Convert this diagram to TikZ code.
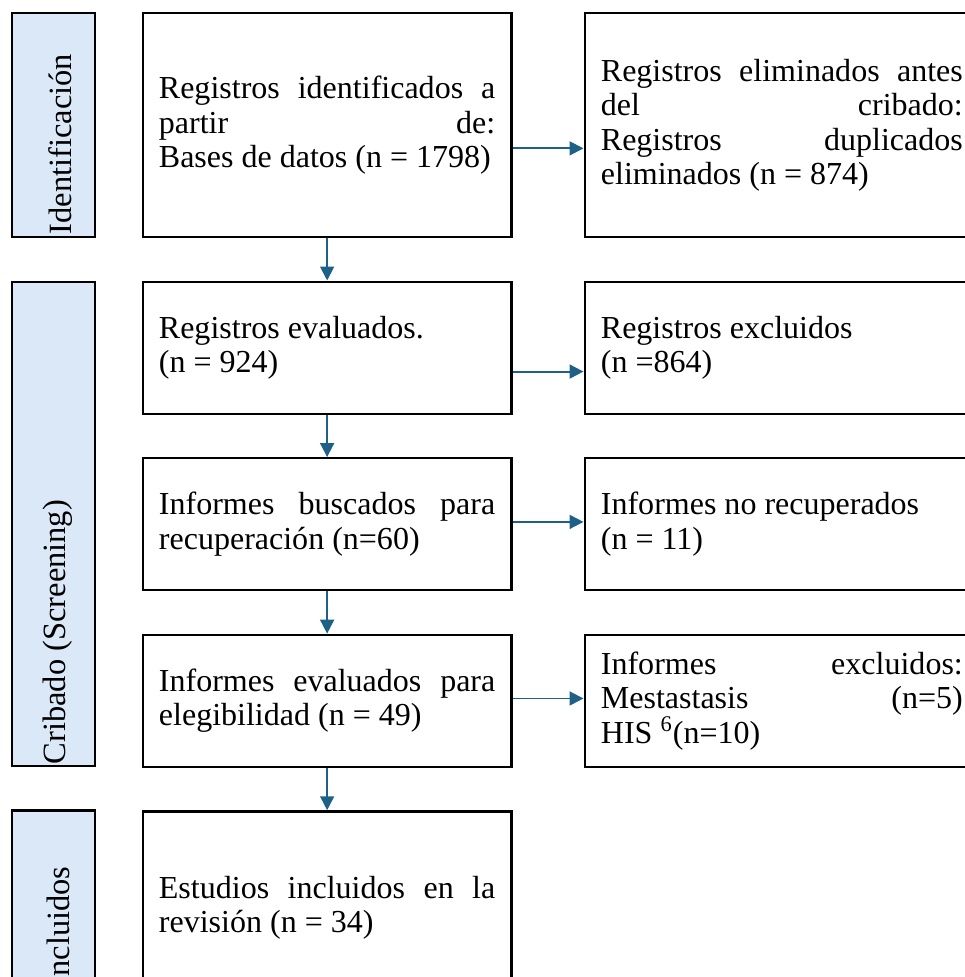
\documentclass[tikz,border=0pt]{standalone}
\usepackage{fontspec}
\setmainfont{Liberation Serif}
\usepackage{xcolor}
\usepackage{tikz}
\usetikzlibrary{arrows.meta,positioning}
\definecolor{barblue}{HTML}{DAE8F7}
\definecolor{arrowblue}{HTML}{1F6087}

\begin{document}
\begin{tikzpicture}[
 font=\fontsize{13.8}{14.9}\selectfont,
 bar/.style={draw,fill=barblue,line width=1pt,minimum width=35.8pt,inner sep=0pt},
 bartext/.style={font=\fontsize{14}{16}\selectfont,inner sep=0pt,rotate=90,anchor=west},
 box/.style={draw,line width=1pt,text width=145pt,inner xsep=7pt,inner ysep=0pt,align=justify,minimum height=56.9pt},
 rbox/.style={box,text width=156pt},
 arr/.style={-{Triangle[length=6pt,width=6pt]},line width=0.8pt,draw=arrowblue}
]
\clip (0,0) rectangle (415.9pt,-421.1pt);
\useasboundingbox (0,0) rectangle (415.9pt,-421.1pt);
% left bars
\node[bar,minimum height=96.5pt,anchor=north west] (bar1) at (4.7pt,-5.2pt) {};
\node[bar,minimum height=208.7pt,below=18.2pt of bar1] (bar2) {};
\node[bar,minimum height=77pt,below=18.2pt of bar2] (bar3) {};
\node[bartext] (t1) at ([xshift=3pt,yshift=1.5pt]bar1.south) {Identificación};
\node[bartext] (t2) at ([xshift=2pt,yshift=1pt]bar2.south) {Cribado (Screening)};
\node[bartext] (t3) at ([xshift=2pt,yshift=1pt]bar3.south) {Incluidos};
% main column
\node[box,minimum height=96.5pt,right=19.5pt of bar1.north east,anchor=north west] (m1) {Registros identificados a\linebreak partir de:\linebreak Bases de datos (n = 1798)};
\node[box,below=18.2pt of m1] (m2) {Registros evaluados.\\ (n = 924)};
\node[box,below=18.2pt of m2] (m3) {Informes buscados para\linebreak recuperación (n=60)};
\node[box,below=18.2pt of m3] (m4) {Informes evaluados para\linebreak elegibilidad (n = 49)};
\node[box,minimum height=83pt,below=18.2pt of m4] (m5) {Estudios incluidos en la\linebreak revisión (n = 34)};
% right column
\node[rbox,minimum height=96.5pt,right=30.5pt of m1.north east,anchor=north west] (r1) {Registros eliminados antes\linebreak del cribado:\linebreak Registros duplicados\linebreak eliminados (n = 874)};
\node[rbox,right=30.5pt of m2.north east,anchor=north west] (r2) {Registros excluidos\\ (n =864)};
\node[rbox,right=30.5pt of m3.north east,anchor=north west] (r3) {Informes no recuperados\\ (n = 11)};
\node[rbox,right=30.5pt of m4.north east,anchor=north west] (r4) {Informes excluidos:\linebreak Mestastasis (n=5)\linebreak HIS \textsuperscript{6}(n=10)};
% arrows
\draw[arr] (m1)--(m2); \draw[arr] (m2)--(m3); \draw[arr] (m3)--(m4); \draw[arr] (m4)--(m5);
\draw[arr] ([yshift=-10pt]m1.east)--([yshift=-10pt]m1.east -| r1.west);
\draw[arr] ([yshift=-10.3pt]m2.east)--([yshift=-10.3pt]m2.east -| r2.west);
\draw[arr] ([yshift=1pt]m3.east)--([yshift=1pt]m3.east -| r3.west);
\draw[arr] ([yshift=1pt]m4.east)--([yshift=1pt]m4.east -| r4.west);
\end{tikzpicture}
\end{document}
